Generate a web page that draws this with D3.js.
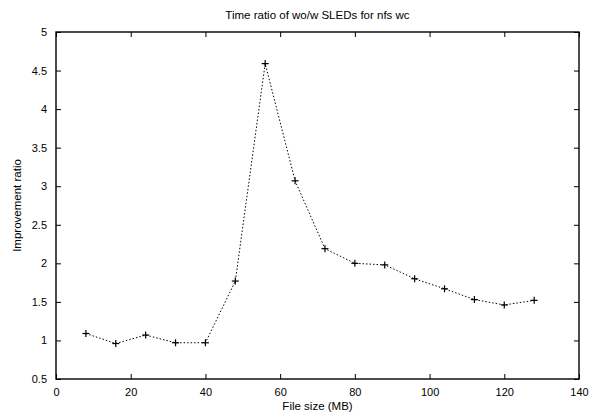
<!DOCTYPE html>
<html>
<head>
<meta charset="utf-8">
<script src="https://cdn.jsdelivr.net/npm/d3@7"></script>
<style>
  html, body { margin: 0; padding: 0; background: #fff; }
  svg { display: block; }
  text { font-family: "Liberation Sans", Arial, Helvetica, sans-serif; fill: #000; }
</style>
</head>
<body>
<svg id="chart" width="589" height="415"></svg>
<script>
// File sizes (MB) and measured wo/w SLEDs time ratio
const fileSizes = [8, 16, 24, 32, 40, 48, 56, 64, 72, 80, 88, 96, 104, 112, 120, 128];
const ratios = [1.09, 0.96, 1.07, 0.97, 0.97, 1.77, 4.59, 3.07, 2.19, 2.00, 1.98, 1.80, 1.67, 1.53, 1.46, 1.52];
const xTicks = [0, 20, 40, 60, 80, 100, 120, 140];
const yTicks = [0.5, 1, 1.5, 2, 2.5, 3, 3.5, 4, 4.5, 5];

const W = 589, H = 415;
const m = { left: 56, right: 10, top: 32, bottom: 36 };
const svg = d3.select("#chart");

const x = d3.scaleLinear().domain([0, 140]).range([m.left, W - m.right]);
const y = d3.scaleLinear().domain([0.5, 5]).range([H - m.bottom, m.top]);

const fs = 11, fsTitle = 11.5, tick = 5;

// Bottom axis with labels, top axis mirrored ticks only
const xb = svg.append("g").attr("transform", `translate(0,${y(0.5)})`)
  .call(d3.axisBottom(x).tickValues(xTicks).tickSizeInner(-tick).tickSizeOuter(0).tickPadding(9));
const xt = svg.append("g").attr("transform", `translate(0,${y(5)})`)
  .call(d3.axisTop(x).tickValues(xTicks).tickSizeInner(-tick).tickSizeOuter(0).tickFormat(""));
const yl = svg.append("g").attr("transform", `translate(${x(0)},0)`)
  .call(d3.axisLeft(y).tickValues(yTicks).tickSizeInner(-tick).tickSizeOuter(0).tickPadding(9).tickFormat(d3.format("")));
const yr = svg.append("g").attr("transform", `translate(${x(140)},0)`)
  .call(d3.axisRight(y).tickValues(yTicks).tickSizeInner(-tick).tickSizeOuter(0).tickFormat(""));

[xb, xt, yl, yr].forEach(g => {
  g.select(".domain").remove();
  g.selectAll(".tick line").attr("stroke", "#000").attr("stroke-width", 1);
  g.selectAll(".tick text").attr("font-size", fs).attr("font-family", "Liberation Sans, Arial, sans-serif").attr("fill", "#000");
});

// Plot border
svg.append("rect")
  .attr("x", x(0)).attr("y", y(5))
  .attr("width", x(140) - x(0)).attr("height", y(0.5) - y(5))
  .attr("fill", "none").attr("stroke", "#000").attr("stroke-width", 1.4);

// Dotted line through the points
const pts = fileSizes.map((s, i) => [s, ratios[i]]);
svg.append("path")
  .datum(pts)
  .attr("fill", "none")
  .attr("stroke", "#000")
  .attr("stroke-width", 1)
  .attr("stroke-dasharray", "1.5,2")
  .attr("d", d3.line().x(d => x(d[0])).y(d => y(d[1])));

// Plus-sign point markers
const mk = svg.append("g").attr("stroke", "#000").attr("stroke-width", 1.2);
pts.forEach(d => {
  const px = x(d[0]), py = y(d[1]);
  mk.append("line").attr("x1", px - 3.5).attr("x2", px + 3.5).attr("y1", py).attr("y2", py);
  mk.append("line").attr("x1", px).attr("x2", px).attr("y1", py - 3.5).attr("y2", py + 3.5);
});

// Title and axis titles
svg.append("text").attr("x", (x(0) + x(140)) / 2).attr("y", 19)
  .attr("text-anchor", "middle").attr("font-size", fsTitle)
  .text("Time ratio of wo/w SLEDs for nfs wc");
svg.append("text").attr("x", (x(0) + x(140)) / 2).attr("y", 410)
  .attr("text-anchor", "middle").attr("font-size", fsTitle)
  .text("File size (MB)");
svg.append("text")
  .attr("transform", `translate(21,${(y(0.5) + y(5)) / 2}) rotate(-90)`)
  .attr("text-anchor", "middle").attr("font-size", fsTitle)
  .text("Improvement ratio");
</script>
</body>
</html>
